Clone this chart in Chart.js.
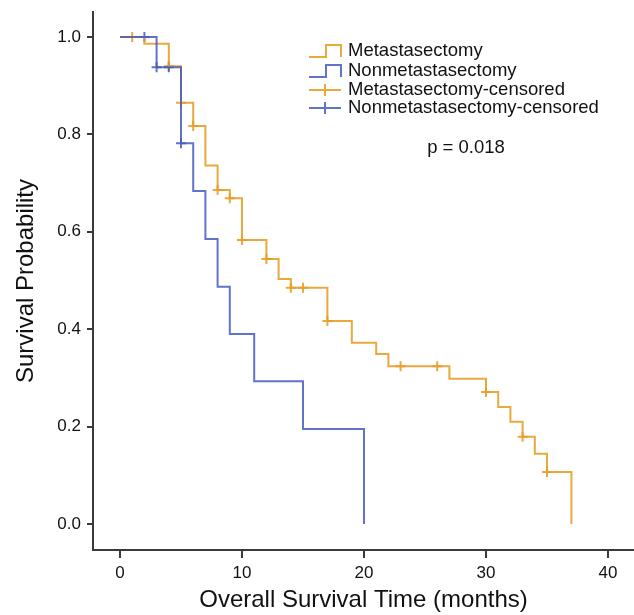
<!DOCTYPE html>
<html>
<head>
<meta charset="utf-8">
<script src="https://cdn.jsdelivr.net/npm/chart.js@4/dist/chart.umd.min.js"></script>
<style>
  html, body { margin: 0; padding: 0; background: #fff; }
  #wrap { width: 634px; height: 615px; }
</style>
</head>
<body>
<div id="wrap"><canvas id="kmChart" width="634" height="615"></canvas></div>
<script>
// Kaplan-Meier step points (time in months, survival probability)
var metaTime = [0, 2, 4, 5, 6, 7, 8, 9, 10, 12, 13, 14, 17, 19, 21, 22, 27, 30, 31, 32, 33, 34, 35, 37];
var metaSurv = [1.0, 0.986, 0.94, 0.865, 0.817, 0.736, 0.686, 0.669, 0.583, 0.544, 0.503, 0.485, 0.417, 0.372, 0.349, 0.324, 0.298, 0.271, 0.240, 0.210, 0.179, 0.144, 0.107, 0.0];

var nonTime = [0, 3, 5, 6, 7, 8, 9, 11, 15, 20];
var nonSurv = [1.0, 0.938, 0.782, 0.684, 0.585, 0.487, 0.390, 0.293, 0.195, 0.0];

// censored observations
var metaCensTime = [1, 4, 5, 6, 8, 9, 10, 12, 14, 15, 17, 23, 26, 30, 33, 35];
var metaCensSurv = [1.0, 0.94, 0.865, 0.817, 0.686, 0.669, 0.583, 0.544, 0.485, 0.485, 0.417, 0.324, 0.324, 0.271, 0.179, 0.107];

var nonCensTime = [2, 3, 4, 5];
var nonCensSurv = [1.0, 0.938, 0.938, 0.782];

var xTicks = [0, 10, 20, 30, 40];
var yTicks = [0, 0.2, 0.4, 0.6, 0.8, 1.0];

var seriesNames = ['Metastasectomy', 'Nonmetastasectomy', 'Metastasectomy-censored', 'Nonmetastasectomy-censored'];
var pText = 'p = 0.018';

var orange = 'rgba(232, 158, 40, 0.9)';
var blue = 'rgba(70, 92, 190, 0.85)';
var fontFam = '"Liberation Sans", Arial, sans-serif';

function pts(xs, ys) {
    return xs.map(function(x, i) { return {x: x, y: ys[i]}; });
}

// let the x axis run to the right edge (no room kept for the "40" label)
var fullWidth = {
    id: 'fullWidth',
    afterLayout: function(chart) {
        var x = chart.scales.x;
        var r = chart.width;
        x.right = r;
        x.width = r - x.left;
        x.configure();
        chart.chartArea.right = r;
        chart.chartArea.width = r - chart.chartArea.left;
    }
};

// legend + p-value drawn inside the plot
var annotations = {
    id: 'annotations',
    afterDraw: function(chart) {
        var ctx = chart.ctx;
        ctx.save();
        ctx.lineWidth = 2;
        ctx.font = '18.5px ' + fontFam;
        ctx.textBaseline = 'middle';
        ctx.fillStyle = '#111';
        var rows = [51, 71, 90, 108];
        var cols = [orange, blue, orange, blue];
        rows.forEach(function(y, i) {
            ctx.strokeStyle = cols[i];
            ctx.beginPath();
            if (i < 2) {
                ctx.moveTo(309, y + 6);
                ctx.lineTo(326, y + 6);
                ctx.lineTo(326, y - 6);
                ctx.lineTo(341, y - 6);
                ctx.lineTo(341, y + 6);
            } else {
                ctx.moveTo(309, y);
                ctx.lineTo(341, y);
                ctx.moveTo(325, y - 6);
                ctx.lineTo(325, y + 6);
            }
            ctx.stroke();
            ctx.fillText(seriesNames[i], 348, y);
        });
        ctx.textAlign = 'center';
        ctx.fillText(pText, 466, 148);
        ctx.restore();
    }
};

document.addEventListener('DOMContentLoaded', function() {
    var ctx = document.getElementById('kmChart').getContext('2d');
    new Chart(ctx, {
        type: 'line',
        data: {
            datasets: [{
                label: seriesNames[1],
                data: pts(nonTime, nonSurv),
                borderColor: blue,
                borderWidth: 2,
                stepped: true,
                pointRadius: 0,
                fill: false
            }, {
                label: seriesNames[0],
                data: pts(metaTime, metaSurv),
                borderColor: orange,
                borderWidth: 2,
                stepped: true,
                pointRadius: 0,
                fill: false
            }, {
                label: seriesNames[3],
                data: pts(nonCensTime, nonCensSurv),
                showLine: false,
                pointStyle: 'cross',
                pointRadius: 5,
                pointBorderWidth: 2,
                pointBorderColor: blue,
                borderColor: blue
            }, {
                label: seriesNames[2],
                data: pts(metaCensTime, metaCensSurv),
                showLine: false,
                pointStyle: 'cross',
                pointRadius: 5,
                pointBorderWidth: 2,
                pointBorderColor: orange,
                borderColor: orange
            }]
        },
        options: {
            responsive: false,
            animation: false,
            layout: { padding: { top: 12, right: 0, left: 0, bottom: 0 } },
            plugins: {
                legend: { display: false },
                tooltip: { enabled: false }
            },
            scales: {
                x: {
                    type: 'linear',
                    min: -2.213,
                    max: 42.13,
                    afterBuildTicks: function(s) { s.ticks = xTicks.map(function(v) { return {value: v}; }); },
                    afterFit: function(s) { s.height = 65; },
                    grid: { display: true, drawOnChartArea: false, drawTicks: true, tickLength: 8, color: '#3a3a3a', lineWidth: 2 },
                    border: { display: true, color: '#3a3a3a', width: 2 },
                    ticks: { font: { size: 17, family: fontFam }, color: '#111', padding: 5, maxRotation: 0 },
                    title: { display: true, text: 'Overall Survival Time (months)', font: { size: 24, family: fontFam }, color: '#111', padding: { top: 0, bottom: 0 } }
                },
                y: {
                    min: -0.0534,
                    max: 1.0513,
                    afterBuildTicks: function(s) { s.ticks = yTicks.map(function(v) { return {value: v}; }); },
                    afterFit: function(s) { s.width = 93; s.paddingTop = 0; s.paddingBottom = 0; },
                    grid: { display: true, drawOnChartArea: false, drawTicks: true, tickLength: 6, color: '#3a3a3a', lineWidth: 2 },
                    border: { display: true, color: '#3a3a3a', width: 2 },
                    ticks: {
                        font: { size: 17, family: fontFam },
                        color: '#111',
                        padding: 6,
                        callback: function(v) { return v.toFixed(1); }
                    },
                    title: { display: true, text: 'Survival Probability', font: { size: 24, family: fontFam }, color: '#111', padding: { top: 12, bottom: 0 } }
                }
            }
        },
        plugins: [fullWidth, annotations]
    });
});
</script>
</body>
</html>
